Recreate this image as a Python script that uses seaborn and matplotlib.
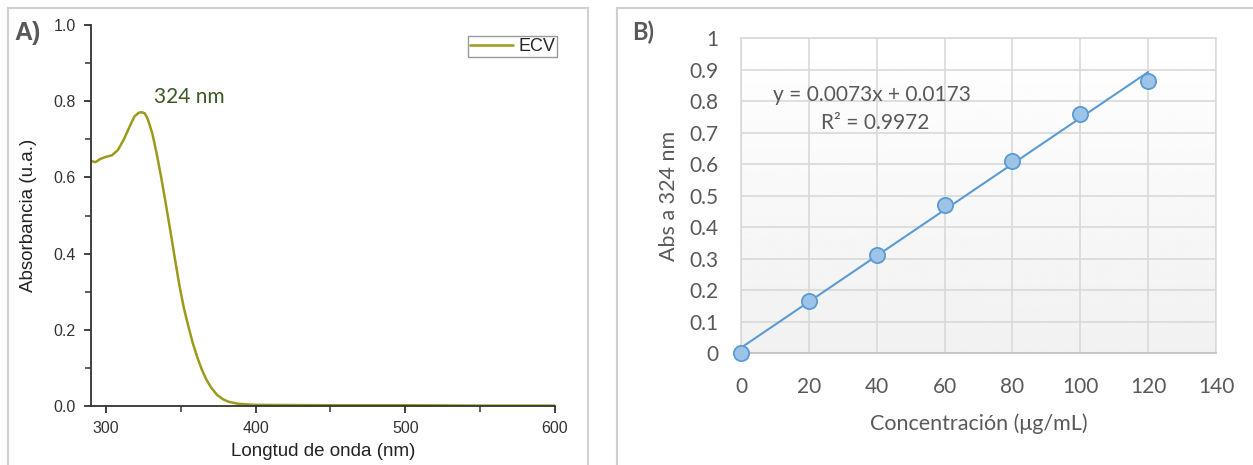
import numpy as np
import pandas as pd
import matplotlib.pyplot as plt
import seaborn as sns
from matplotlib.patches import Rectangle

# spectrum (panel A)
wavelength = [290, 293, 296, 300, 304, 308, 312, 316, 319, 322, 324, 326, 328, 331, 334, 337, 340,
              343, 346, 349, 352, 355, 358, 361, 364, 367, 370, 374, 378, 382, 388, 395, 400,
              450, 500, 550, 600]
absorbance = [0.643, 0.640, 0.648, 0.654, 0.658, 0.672, 0.700, 0.735, 0.760, 0.770, 0.771, 0.768, 0.752,
              0.715, 0.660, 0.598, 0.530, 0.460, 0.388, 0.318, 0.258, 0.210, 0.165, 0.128, 0.096, 0.070,
              0.050, 0.030, 0.018, 0.011, 0.006, 0.004, 0.003, 0.002, 0.002, 0.001, 0.001]

# calibration (panel B)
conc = [0, 20, 40, 60, 80, 100, 120]
abs_324 = [0.0, 0.165, 0.31, 0.47, 0.61, 0.76, 0.865]

spec = pd.DataFrame({"nm": wavelength, "A": absorbance})
calib = pd.DataFrame({"c": conc, "A": abs_324})

sns.set_style("ticks")
plt.rcParams['font.family'] = ['Liberation Sans', 'DejaVu Sans']

fig = plt.figure(figsize=(12.53, 4.65), dpi=100)

# panel frames
fig.patches.append(Rectangle((8 / 1253, -0.1), 580 / 1253, 1.1 - 8 / 465, transform=fig.transFigure,
                             fill=False, edgecolor="#d0d0d0", lw=1.5))
fig.patches.append(Rectangle((617 / 1253, -0.1), 640 / 1253, 1.1 - 8 / 465, transform=fig.transFigure,
                             fill=False, edgecolor="#d0d0d0", lw=1.5))

# ---- A) ----
ax1 = fig.add_axes([91 / 1253, 1 - 406 / 465, 464 / 1253, 381 / 465])
sns.lineplot(data=spec, x="nm", y="A", color="#9c9a1c", lw=1.8, ax=ax1, label="ECV")
ax1.set_xlim(290, 600)
ax1.set_ylim(0, 1.0)
ax1.set_xticks([300, 400, 500, 600])
ax1.set_xticks([350, 450, 550], minor=True)
ax1.set_yticks([0, 0.2, 0.4, 0.6, 0.8, 1.0])
ax1.set_yticks([0.1, 0.3, 0.5, 0.7, 0.9], minor=True)
ax1.yaxis.set_major_formatter(plt.FormatStrFormatter('%.1f'))
ax1.tick_params(which="major", direction="out", length=5, width=1.3, color="#333333",
                labelcolor="#333333", labelsize=11.5, pad=6)
ax1.tick_params(which="minor", direction="out", length=4, width=1.1, color="#333333")
sns.despine(ax=ax1)
for s in ["left", "bottom"]:
    ax1.spines[s].set_color("#333333")
    ax1.spines[s].set_linewidth(1.3)
ax1.set_xlabel("Longtud de onda (nm)", fontsize=13.5, color="#222222", labelpad=5)
ax1.set_ylabel("Absorbancia (u.a.)", fontsize=13.5, color="#222222", labelpad=12)
leg = ax1.legend(loc="upper right", fontsize=13, frameon=True, fancybox=False, handlelength=2.4,
                 handletextpad=0.3, borderpad=0.1, borderaxespad=0, bbox_to_anchor=(1.005, 0.97))
leg.get_frame().set_edgecolor("#808080")
leg.get_frame().set_linewidth(1.0)
ax1.text(332, 0.811, "324 nm", fontsize=15, color="#3b5a23", family="Lato", va="center")
fig.text(14 / 1253, 1 - 33 / 465, "A)", fontsize=18, fontweight="bold", color="#595959", va="center")

# ---- B) ----
ax2 = fig.add_axes([741 / 1253, 1 - 353 / 465, 475 / 1253, 315 / 465])
grad = np.linspace(0.945, 1.0, 256).reshape(-1, 1)
ax2.imshow(grad, extent=[0, 140, 0, 1], aspect="auto", cmap="gray", vmin=0, vmax=1,
           origin="lower", zorder=0)
sns.regplot(data=calib, x="c", y="A", ci=None, truncate=True, ax=ax2, scatter=False,
            line_kws={"color": "#5b9bd5", "lw": 1.5, "zorder": 3})
sns.scatterplot(data=calib, x="c", y="A", ax=ax2, s=120, color="#9dc3e6", edgecolor="#5b9bd5",
                linewidth=1.3, zorder=4, clip_on=False)
ax2.set_xlim(0, 140)
ax2.set_ylim(0, 1)
ax2.set_xticks(range(0, 141, 20))
ax2.set_yticks(np.round(np.arange(0, 1.01, 0.1), 1))
ax2.set_yticklabels(["0"] + [f"{v:.1f}" for v in np.arange(0.1, 0.95, 0.1)] + ["1"])
ax2.grid(True, color="#d9d9d9", lw=1.2, zorder=1)
ax2.set_axisbelow(True)
for s in ax2.spines.values():
    s.set_color("#d9d9d9")
    s.set_linewidth(1.2)
ax2.spines["bottom"].set_color("#bfbfbf")
ax2.tick_params(length=0, labelsize=15, colors="#595959")
ax2.tick_params(axis="y", pad=16)
ax2.tick_params(axis="x", pad=17)
for lab in ax2.get_xticklabels() + ax2.get_yticklabels():
    lab.set_family("Lato")
ax2.set_xlabel("Concentración (μg/mL)", fontsize=15.5, color="#595959", family="Lato", labelpad=12)
ax2.set_ylabel("Abs a 324 nm", fontsize=15.5, color="#595959", family="Lato", labelpad=8)
ax2.text(9.4, 0.819, "y = 0.0073x + 0.0173", fontsize=15, color="#595959", family="Lato", va="center")
ax2.text(23.5, 0.730, "R² = 0.9972", fontsize=15, color="#595959", family="Lato", va="center")
fig.text(632 / 1253, 1 - 32 / 465, "B)", fontsize=17, fontweight="bold", color="#595959", va="center",
         family="Lato")

fig.savefig("out.png", dpi=100)
